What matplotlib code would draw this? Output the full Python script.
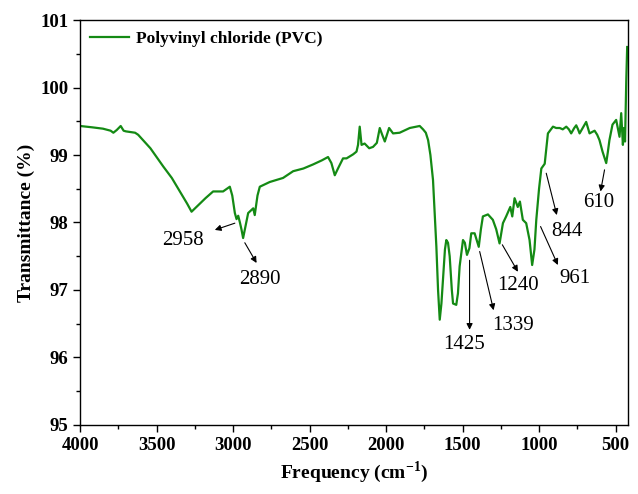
import matplotlib.pyplot as plt
from matplotlib.ticker import MultipleLocator

plt.rcParams['font.family'] = ['Liberation Serif', 'DejaVu Serif']
plt.rcParams['mathtext.fontset'] = 'custom'
plt.rcParams['mathtext.rm'] = 'Liberation Serif'
plt.rcParams['mathtext.bf'] = 'Liberation Serif:bold'

# FTIR spectrum (wavenumber cm^-1, transmittance %)
wavenumber = [4000, 3920, 3850, 3800, 3782, 3760, 3734, 3715, 3700, 3670, 3640, 3620,
              3540, 3456, 3400, 3347, 3300, 3271, 3230, 3180, 3130, 3065, 3021, 3005,
              2988, 2977, 2966, 2955, 2945, 2934, 2918, 2901, 2868, 2858, 2840, 2825,
              2760, 2673, 2607, 2540, 2477, 2420, 2379, 2357, 2335, 2314, 2281, 2258,
              2215, 2193, 2183, 2172, 2160, 2140, 2110, 2085, 2060, 2041, 2025, 2008,
              1980, 1954, 1911, 1845, 1780, 1758, 1740, 1725, 1710, 1693, 1671, 1660,
              1649, 1638, 1628, 1615, 1606, 1595, 1584, 1570, 1562, 1541, 1530, 1519,
              1497, 1485, 1471, 1455, 1443, 1421, 1394, 1380, 1367, 1334, 1302, 1280,
              1258, 1236, 1215, 1188, 1175, 1160, 1139, 1125, 1106, 1084, 1062, 1045,
              1030, 1018, 1000, 985, 963, 942, 909, 888, 865, 845, 822, 805, 790, 770,
              757, 745, 735, 715, 692, 680, 670, 637, 620, 605, 585, 571, 561, 550, 540,
              520, 496, 474, 463, 452, 445, 438, 430, 424]
transmittance = [99.43, 99.41, 99.39, 99.36, 99.33, 99.37, 99.43, 99.36, 99.35, 99.34, 99.33, 99.30,
                 99.10, 98.83, 98.66, 98.46, 98.28, 98.16, 98.25, 98.36, 98.46, 98.46, 98.53, 98.40,
                 98.14, 98.05, 98.10, 98.00, 97.90, 97.77, 97.95, 98.14, 98.21, 98.11, 98.40, 98.53,
                 98.60, 98.66, 98.76, 98.80, 98.86, 98.92, 98.97, 98.88, 98.70, 98.80, 98.95, 98.95,
                 99.01, 99.05, 99.15, 99.42, 99.15, 99.17, 99.10, 99.12, 99.18, 99.40, 99.30, 99.20,
                 99.40, 99.32, 99.33, 99.40, 99.43, 99.38, 99.33, 99.22, 99.00, 98.63, 97.64, 97.00,
                 96.56, 96.80, 97.15, 97.60, 97.74, 97.70, 97.50, 97.00, 96.80, 96.78, 96.95, 97.35,
                 97.74, 97.70, 97.52, 97.62, 97.84, 97.84, 97.64, 97.90, 98.09, 98.12, 98.04, 97.90,
                 97.69, 97.99, 98.09, 98.23, 98.09, 98.36, 98.23, 98.31, 98.04, 97.99, 97.74, 97.37,
                 97.60, 98.04, 98.50, 98.80, 98.87, 99.32, 99.42, 99.40, 99.40, 99.38, 99.42, 99.38,
                 99.32, 99.40, 99.44, 99.38, 99.32, 99.40, 99.49, 99.40, 99.32, 99.36, 99.30, 99.22,
                 99.05, 98.95, 98.88, 99.05, 99.22, 99.45, 99.52, 99.27, 99.62, 99.15, 99.40, 99.20,
                 100.1, 100.6]

# peak labels: (text, arrow tail, arrow head, text position)
peak_labels = ['2958', '2890', '1425', '1339', '1240', '961', '844', '610']
arrow_from = [(2988, 97.99), (2923, 97.70), (1454, 97.44), (1388, 97.57),
              (1240, 97.67), (990, 97.94), (953, 98.73), (572, 98.78)]
arrow_to = [(3119, 97.89), (2846, 97.40), (1454, 96.41), (1297, 96.70),
            (1138, 97.27), (877, 97.37), (884, 98.11), (598, 98.46)]
text_pos = [(3328, 97.74), (2825, 97.15), (1487, 96.19), (1170, 96.48),
            (1138, 97.07), (768, 97.17), (817, 97.86), (609, 98.29)]

fig = plt.figure(figsize=(6.38, 4.94), dpi=100)
ax = fig.add_axes([0.1254, 0.1397, 0.8586, 0.8198])

ax.plot(wavenumber, transmittance, color='#148a14', linewidth=1.6,
        label='Polyvinyl chloride (PVC)')

for lab, a, b, t in zip(peak_labels, arrow_from, arrow_to, text_pos):
    ax.annotate('', xy=b, xytext=a,
                arrowprops=dict(arrowstyle='-|>', color='black', lw=0.8,
                                mutation_scale=9, shrinkA=0, shrinkB=0))
    ax.text(t[0], t[1], lab, fontsize=15, ha='center', va='center')

ax.set_xlim(4000, 420)
ax.set_ylim(95, 101)
ax.xaxis.set_major_locator(MultipleLocator(500))
ax.xaxis.set_minor_locator(MultipleLocator(250))
ax.yaxis.set_major_locator(MultipleLocator(1))
ax.yaxis.set_minor_locator(MultipleLocator(0.5))
ax.tick_params(which='major', direction='out', length=5, width=1, labelsize=13.5)
ax.tick_params(which='minor', direction='out', length=3, width=1)
for lbl in ax.get_xticklabels() + ax.get_yticklabels():
    lbl.set_fontweight('bold')
for s in ax.spines.values():
    s.set_linewidth(1)

ax.set_xlabel('Frequency (cm$^{\\mathbf{-1}}$)', fontsize=14, fontweight='bold')
ax.set_ylabel('Transmittance (%)', fontsize=14, fontweight='bold')

ax.legend(loc='upper left', frameon=False, prop={'weight': 'bold', 'size': 12.5},
          handlelength=2.25, handletextpad=0.35, borderaxespad=0.2)

fig.savefig('out.png', dpi=100)
